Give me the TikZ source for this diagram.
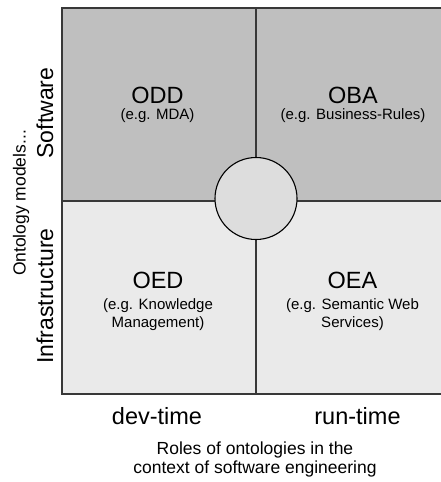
\documentclass[tikz,border=0pt]{standalone}
\usepackage{fontspec}
\setmainfont{Liberation Sans}
\usepackage{tikz}
\usetikzlibrary{positioning,calc}
\definecolor{softgray}{HTML}{BFBFBF}
\definecolor{infragray}{HTML}{EAEAEA}
\definecolor{hubgray}{HTML}{DDDDDD}
\definecolor{linegray}{HTML}{383838}
\tikzset{
	frame/.style={line width=2pt, draw=linegray},
	divider/.style={line width=1.5pt, draw=linegray},
	hub/.style={circle, draw=black, line width=1.1pt, fill=hubgray, minimum size=82pt, inner sep=0pt},
	quadname/.style={anchor=base, inner sep=0pt, font=\fontsize{23.5}{28}\selectfont},
	quadnote/.style={anchor=base, inner sep=0pt, align=center, font=\fontsize{15}{18}\selectfont},
	axislabel/.style={anchor=base, inner sep=0pt, font=\fontsize{23.5}{28}\selectfont},
	sidelabel/.style={anchor=base, inner sep=0pt, rotate=90, font=\fontsize{23}{28}\selectfont},
	caption/.style={anchor=base, inner sep=0pt, align=center, font=\fontsize{17.5}{19}\selectfont}
}
\begin{document}
\begin{tikzpicture}[x=1pt,y=-1pt]
	\useasboundingbox (0,0) rectangle (441,482);
	% quadrants
	\fill [softgray] (62,7.7) rectangle (450,201);
	\fill [infragray] (62,201) rectangle (450,394.3);
	\draw [divider] (256,7.7) -- (256,394.3);
	\draw [divider] (62,201) -- (450,201);
	\draw [frame] (450,7.7) -- (62,7.7) -- (62,394.3) -- (450,394.3);
	\node [hub] (hub) at (256,198.5) {};
	% quadrant texts (multi-line nodes sit on their last baseline)
	\node [quadname] (odd) at (157.5,103) {ODD};
	\node [quadnote] (oddnote) at (157.5,119.5) {(e.g. MDA)};
	\node [quadname] (oba) at (353,103) {OBA};
	\node [quadnote] (obanote) at (353,119.5) {(e.g. Business-Rules)};
	\node [quadname] (oed) at (158,288) {OED};
	\node [quadnote] (oednote) at (158,327) {(e.g. Knowledge\\Management)};
	\node [quadname] (oea) at (352.5,288) {OEA};
	\node [quadnote] (oeanote) at (352.5,327) {(e.g. Semantic Web\\Services)};
	% axes
	\node [axislabel] (dev) at (157,424) {dev-time};
	\node [axislabel] (run) at (357.5,424) {run-time};
	\node [caption] (roles) at (255,473) {Roles of ontologies in the\\context of software engineering};
	\node [sidelabel] (soft) at (53,113) {Software};
	\node [sidelabel] (infra) at (53,296) {Infrastructure};
	\node [caption, rotate=90] (models) at (25.5,203) {Ontology models...};
\end{tikzpicture}
\end{document}
